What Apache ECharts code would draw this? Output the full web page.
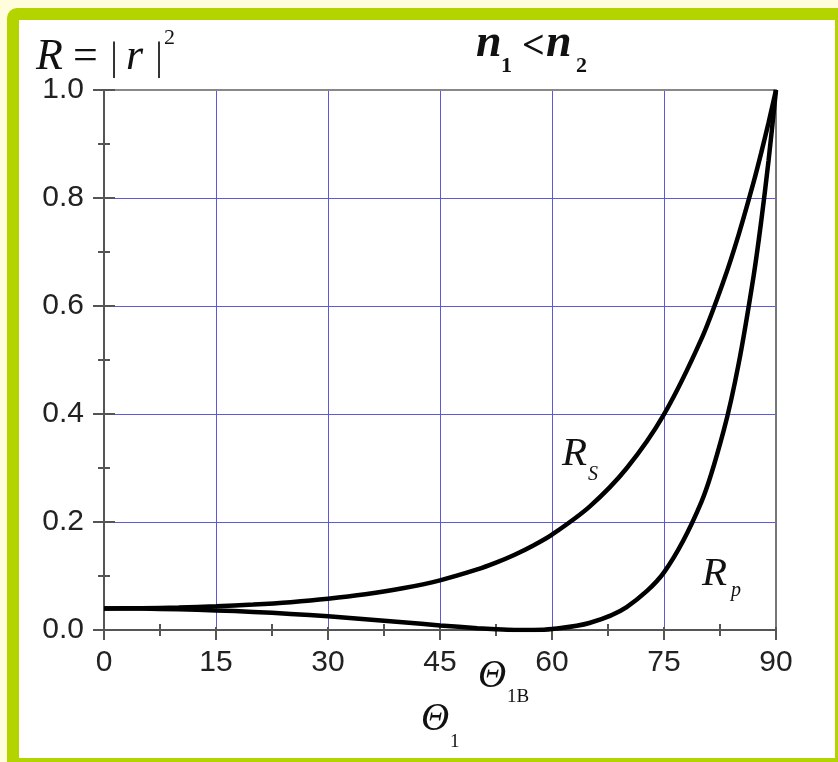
<!DOCTYPE html>
<html>
<head>
<meta charset="utf-8">
<script src="https://cdn.jsdelivr.net/npm/echarts@6/dist/echarts.min.js"></script>
<style>
  html, body { margin: 0; padding: 0; background: #fffddc; }
  #chart { width: 838px; height: 762px; }
</style>
</head>
<body>
<div id="chart"></div>
<script>
// Angle of incidence (degrees)
const angles = [0, 5, 10, 15, 20, 25, 30, 35, 40, 45, 50, 52.5, 55, 57.5, 60, 65, 70, 75, 80, 83, 85, 87, 88, 89, 90];
// Reflectance for s-polarisation
const rsValues = [0.040, 0.0404, 0.0417, 0.0438, 0.0471, 0.0516, 0.0578, 0.0661, 0.0772, 0.0920, 0.1121, 0.1246, 0.1393, 0.1565, 0.1766, 0.2281, 0.2996, 0.3994, 0.5386, 0.6472, 0.7323, 0.8293, 0.8826, 0.9395, 1.0];
// Reflectance for p-polarisation
const rpValues = [0.040, 0.0396, 0.0384, 0.0363, 0.0335, 0.0298, 0.0253, 0.0200, 0.0143, 0.0085, 0.0033, 0.0013, 0.0002, 0.0002, 0.0018, 0.0130, 0.0425, 0.1068, 0.2368, 0.3696, 0.4933, 0.6555, 0.7548, 0.8689, 1.0];
// Axis ranges and steps
const xTicks = { min: 0, max: 90, step: 15 };
const yTicks = { min: 0, max: 1, step: 0.2 };

const chart = echarts.init(document.getElementById('chart'), null, { renderer: 'canvas' });

const sans = '"Liberation Sans", Arial, sans-serif';
const serif = '"Liberation Serif", "Times New Roman", serif';
const gridBlue = '#5a5ad8';
const axisGray = '#555555';

function pair(xs, ys) { return xs.map((x, i) => [x, ys[i]]); }

// Places a piece of text by its left edge and its baseline
function txt(text, x, baseline, size, opts) {
  opts = opts || {};
  return {
    type: 'text', z: 100, silent: true,
    style: {
      text: text, x: x, y: baseline - 0.34 * size,
      font: (opts.style || 'normal') + ' ' + (opts.weight || 'normal') + ' ' + size + 'px ' + (opts.family || serif),
      fill: opts.fill || '#111', align: 'left', verticalAlign: 'middle'
    }
  };
}

const baseX = { type: 'value', min: xTicks.min, max: xTicks.max, interval: xTicks.step, gridIndex: 0 };
const baseY = { type: 'value', min: yTicks.min, max: yTicks.max, interval: yTicks.step, gridIndex: 0 };

chart.setOption({
  animation: false,
  backgroundColor: '#fffddc',
  grid: { left: 104, right: 62, top: 90, bottom: 132, containLabel: false },
  xAxis: [
    Object.assign({}, baseX, {
      position: 'bottom',
      axisLine: { show: true, onZero: false, lineStyle: { color: axisGray, width: 2 } },
      axisTick: { show: true, inside: false, length: 10, lineStyle: { color: axisGray, width: 2 } },
      minorTick: { show: true, splitNumber: 2, length: 6, lineStyle: { color: axisGray, width: 2 } },
      axisLabel: { show: true, fontFamily: sans, fontSize: 30, color: '#222', margin: 18 },
      splitLine: { show: true, lineStyle: { color: gridBlue, width: 1 } }
    }),
    Object.assign({}, baseX, {
      position: 'bottom',
      axisLine: { show: false, onZero: false },
      axisTick: { show: true, inside: true, length: 3, lineStyle: { color: axisGray, width: 2 } },
      minorTick: { show: true, splitNumber: 2, length: 6, lineStyle: { color: axisGray, width: 2 } },
      axisLabel: { show: false },
      splitLine: { show: false }
    }),
    Object.assign({}, baseX, {
      position: 'top',
      axisLine: { show: true, onZero: false, lineStyle: { color: '#888', width: 2 } },
      axisTick: { show: false },
      axisLabel: { show: false },
      splitLine: { show: false }
    })
  ],
  yAxis: [
    Object.assign({}, baseY, {
      position: 'left',
      axisLine: { show: true, onZero: false, lineStyle: { color: axisGray, width: 2 } },
      axisTick: { show: true, inside: false, length: 11, lineStyle: { color: axisGray, width: 2 } },
      minorTick: { show: true, splitNumber: 2, length: 6, lineStyle: { color: axisGray, width: 2 } },
      axisLabel: { show: true, fontFamily: sans, fontSize: 30, color: '#222', margin: 20,
        formatter: v => v.toFixed(1) },
      splitLine: { show: true, lineStyle: { color: gridBlue, width: 1 } }
    }),
    Object.assign({}, baseY, {
      position: 'left',
      axisLine: { show: false, onZero: false },
      axisTick: { show: true, inside: true, length: 11, lineStyle: { color: axisGray, width: 2 } },
      minorTick: { show: true, splitNumber: 2, length: 6, lineStyle: { color: axisGray, width: 2 } },
      axisLabel: { show: false },
      splitLine: { show: false }
    }),
    Object.assign({}, baseY, {
      position: 'right',
      axisLine: { show: true, onZero: false, lineStyle: { color: '#777', width: 2 } },
      axisTick: { show: false },
      axisLabel: { show: false },
      splitLine: { show: false }
    })
  ],
  series: [
    {
      name: 'Rs', type: 'line', xAxisIndex: 0, yAxisIndex: 0,
      data: pair(angles, rsValues), smooth: 0.3, showSymbol: false, symbol: 'none',
      lineStyle: { color: '#000', width: 4.5 }, z: 5
    },
    {
      name: 'Rp', type: 'line', xAxisIndex: 0, yAxisIndex: 0,
      data: pair(angles, rpValues), smooth: 0.3, showSymbol: false, symbol: 'none',
      lineStyle: { color: '#000', width: 4.5 }, z: 5
    }
  ],
  graphic: [
    // frame around the figure
    { type: 'rect', z: -10, silent: true, shape: { x: 7, y: 8, width: 845, height: 766, r: 10 },
      style: { fill: '#b4d400' } },
    { type: 'rect', z: -9, silent: true, shape: { x: 19, y: 20, width: 816, height: 738 },
      style: { fill: '#ffffff' } },
    // R = |r|^2
    txt('R', 36, 72, 44, { style: 'italic' }),
    txt('=', 73, 72, 44),
    txt('|', 110, 72, 40, { fill: '#333' }),
    txt('r', 126, 72, 44, { style: 'italic' }),
    txt('|', 155, 72, 40, { fill: '#333' }),
    txt('2', 164, 46, 22),
    // n1 < n2
    txt('n', 476, 60, 46, { style: 'italic', weight: 'bold' }),
    txt('1', 501, 74, 22, { weight: 'bold' }),
    txt('<', 522, 61, 40, { weight: 'bold' }),
    txt('n', 546, 60, 46, { style: 'italic', weight: 'bold' }),
    txt('2', 576, 74, 22, { weight: 'bold' }),
    // curve labels
    txt('R', 562, 468, 41, { style: 'italic' }),
    txt('S', 588, 482, 20, { style: 'italic' }),
    txt('R', 702, 588, 41, { style: 'italic' }),
    txt('p', 731, 598, 20, { style: 'italic' }),
    // Brewster angle and axis title
    txt('\u0398', 478, 690, 39, { style: 'italic' }),
    txt('1B', 507, 703, 19),
    txt('\u0398', 421, 733, 39, { style: 'italic' }),
    txt('1', 450, 748, 19)
  ]
});
</script>
</body>
</html>
